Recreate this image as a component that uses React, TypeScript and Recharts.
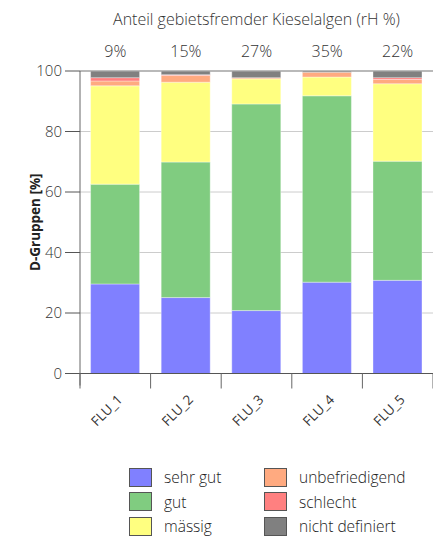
import React from 'react';
import { BarChart, Bar, XAxis, YAxis, CartesianGrid } from 'recharts';

const CATS = ['FLU_1', 'FLU_2', 'FLU_3', 'FLU_4', 'FLU_5'];
const PCTS = ['9%', '15%', '27%', '35%', '22%'];
const SEHR_GUT = [29.6, 25.1, 20.8, 30.2, 30.8];
const GUT = [33.0, 44.8, 68.3, 61.6, 39.4];
const MAESSIG = [32.5, 26.4, 8.3, 6.2, 25.6];
const UNBEF = [1.6, 2.2, 0.4, 1.6, 1.4];
const SCHLECHT = [1.1, 0.3, 0, 0, 0.6];
const NICHT = [2.2, 1.2, 2.2, 0.4, 2.2];
const Y_TICKS = [0, 20, 40, 60, 80, 100];

const TITLE = 'Anteil gebietsfremder Kieselalgen (rH %)';
const Y_LABEL = 'D-Gruppen [%]';

const SERIES = [
  { key: 'sehrGut', name: 'sehr gut', values: SEHR_GUT, color: '#8080ff' },
  { key: 'gut', name: 'gut', values: GUT, color: '#80cc80' },
  { key: 'maessig', name: 'mässig', values: MAESSIG, color: '#ffff80' },
  { key: 'unbef', name: 'unbefriedigend', values: UNBEF, color: '#ffaa80' },
  { key: 'schlecht', name: 'schlecht', values: SCHLECHT, color: '#ff8080' },
  { key: 'nicht', name: 'nicht definiert', values: NICHT, color: '#808080' },
];

const data = CATS.map((cat, i) => {
  const row: any = { cat, pct: PCTS[i] };
  SERIES.forEach((s) => (row[s.key] = s.values[i]));
  return row;
});

const FONT = '"Open Sans", "DejaVu Sans", sans-serif';
const LIGHT = 300;
const W = 426;
const H = 532;
const Y_AXIS_W = 72;
const TOP_H = 63;
const PLOT_W = W - Y_AXIS_W - 1;
const HALF_BAND = PLOT_W / CATS.length / 2;

const XTick = (props: any) => {
  const { x, y, payload, index } = props;
  return (
    <g>
      <line x1={x - HALF_BAND} y1={y} x2={x - HALF_BAND} y2={y + 15} stroke="#666" />
      {index === CATS.length - 1 && (
        <line x1={x + HALF_BAND} y1={y} x2={x + HALF_BAND} y2={y + 15} stroke="#666" />
      )}
      <text
        transform={`translate(${x + 8},${y + 27}) rotate(-45)`}
        textAnchor="end"
        fontSize={13.5}
        fill="#333"
        fontFamily={FONT}
      >
        {payload.value}
      </text>
    </g>
  );
};

const YTick = (props: any) => {
  const { x, y, payload } = props;
  const axisX = x + 18;
  return (
    <g>
      {payload.value === 0 && <line x1={axisX} y1={y} x2={axisX} y2={y + 12} stroke="#666" />}
      <text x={x} y={y} dy="0.35em" textAnchor="end" fontSize={15} fill="#333" fontWeight={LIGHT} fontFamily={FONT}>
        {payload.value}
      </text>
    </g>
  );
};

const Legend = () => {
  const cols = [SERIES.slice(0, 3), SERIES.slice(3)];
  return (
    <div
      style={{
        position: 'absolute',
        left: 121,
        top: 457,
        display: 'flex',
        fontFamily: FONT,
        fontSize: 15.5,
        fontWeight: LIGHT,
        color: '#222',
      }}
    >
      {cols.map((col, ci) => (
        <div key={ci} style={{ width: ci === 0 ? 135 : 160 }}>
          {col.map((s) => (
            <div key={s.key} style={{ display: 'flex', alignItems: 'center', height: 24.5 }}>
              <div
                style={{
                  width: 21,
                  height: 17,
                  background: s.color,
                  border: '1px solid #555',
                  marginRight: 12,
                }}
              />
              <span>{s.name}</span>
            </div>
          ))}
        </div>
      ))}
    </div>
  );
};

export default function App() {
  return (
    <div style={{ position: 'relative', width: W, height: H }}>
      <BarChart
        width={W}
        height={H}
        data={data}
        margin={{ top: 0, right: 1, left: 0, bottom: 86.5 }}
        barCategoryGap="15%"
        style={{ fontFamily: FONT }}
      >
        <CartesianGrid vertical={false} stroke="#cccccc" />
        <XAxis
          dataKey="cat"
          height={80}
          interval={0}
          tickLine={false}
          tickSize={0}
          tickMargin={0}
          axisLine={{ stroke: '#555' }}
          tick={<XTick />}
        />
        <XAxis
          xAxisId="top"
          orientation="top"
          dataKey="pct"
          height={TOP_H}
          interval={0}
          tickLine={false}
          tickSize={0}
          tickMargin={14}
          axisLine={{ stroke: '#999' }}
          tick={{ fontSize: 16, fill: '#333', fontFamily: FONT, fontWeight: LIGHT }}
          label={{
            value: TITLE,
            position: 'insideTop',
            offset: 6,
            fontSize: 16,
            fill: '#333',
            fontFamily: FONT,
            fontWeight: LIGHT,
          }}
        />
        <YAxis
          domain={[0, 100]}
          ticks={Y_TICKS}
          width={Y_AXIS_W}
          tickSize={15}
          tickMargin={3}
          tickLine={{ stroke: '#555' }}
          axisLine={{ stroke: '#666' }}
          tick={<YTick />}
          label={{
            value: Y_LABEL,
            angle: -90,
            position: 'insideLeft',
            offset: 27,
            style: { textAnchor: 'middle' },
            fontSize: 13.5,
            fontWeight: 'bold',
            fill: '#222',
            fontFamily: FONT,
          }}
        />
        <YAxis
          yAxisId="right"
          orientation="right"
          domain={[0, 100]}
          width={0}
          tick={false}
          tickLine={false}
          axisLine={{ stroke: '#999' }}
        />
        {SERIES.map((s) => (
          <Bar
            key={s.key}
            dataKey={s.key}
            name={s.name}
            stackId="a"
            fill={s.color}
            stroke="rgba(255,255,255,0.35)"
            isAnimationActive={false}
          />
        ))}
      </BarChart>
      <Legend />
    </div>
  );
}
